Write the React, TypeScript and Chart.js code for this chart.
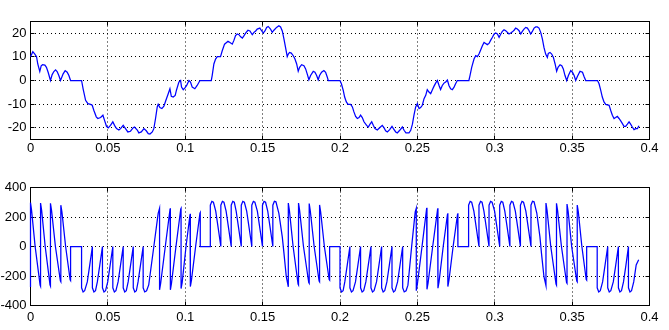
import React, { useEffect, useRef } from "react";
import { Chart, registerables } from "chart.js";

Chart.register(...registerables);

// ---- axis ticks / ranges ----
const timeTicks = [0, 0.05, 0.1, 0.15, 0.2, 0.25, 0.3, 0.35, 0.4];
const timeTickLabels = ["0", "0.05", "0.1", "0.15", "0.2", "0.25", "0.3", "0.35", "0.4"];
const timeRange = [0, 0.4];
const currentTicks = [-20, -10, 0, 10, 20];
const currentRange = [-25, 25];
const voltageTicks = [-400, -200, 0, 200, 400];
const voltageRange = [-400, 400];

// ---- top trace: [time, value] ----
const currentPoints: [number, number][] = [
  [0, 10.1], [0.0015, 12.2], [0.0028, 11.2], [0.0039, 10.1], [0.0047, 7.0], [0.006, 3.8], [0.0069, 6.2], [0.0078, 6.7],
  [0.0093, 6.5], [0.0103, 5.6], [0.0114, 3.5], [0.0129, 0], [0.014, 2.5], [0.0151, 3.8], [0.0162, 4.5], [0.0172, 3.8],
  [0.0183, 2.1], [0.0194, 0], [0.0211, 2.8], [0.0224, 4.2], [0.0237, 3.5], [0.0248, 2.1], [0.0259, 0], [0.033, 0],
  [0.034, -3.5], [0.0356, -8.4], [0.0371, -9.8], [0.0388, -10.1], [0.0399, -10.5], [0.0409, -12.6], [0.0425, -15.4],
  [0.0435, -16.1], [0.0453, -15.7], [0.0468, -14.7], [0.0478, -16.8], [0.0491, -19.4], [0.0502, -20.1], [0.0517, -19.0],
  [0.0532, -17.5], [0.0543, -19.0], [0.0556, -20.4], [0.0571, -21.0], [0.0582, -20.4], [0.0599, -19.0], [0.0614, -20.4],
  [0.0629, -21.8], [0.0646, -21.5], [0.0664, -20.0], [0.0672, -19.7], [0.069, -21.0], [0.07, -22.2], [0.0716, -21.8],
  [0.0733, -20.4], [0.0748, -21.3], [0.0761, -22.5], [0.0772, -22.7], [0.0787, -21.8], [0.0797, -20.4], [0.0808, -16.1],
  [0.0819, -11.2], [0.0825, -10.1], [0.0836, -11.5], [0.0849, -11.9], [0.0862, -10.9], [0.0875, -8.4], [0.089, -5.6],
  [0.0901, -3.5], [0.091, -6.7], [0.0922, -7.0], [0.0935, -6.3], [0.0944, -3.9], [0.0959, -0.7], [0.097, 0],
  [0.0976, -2.8], [0.0987, -3.9], [0.0998, -3.1], [0.1009, -2.1], [0.1024, 0], [0.1034, -0.7], [0.1045, -2.8],
  [0.1062, -3.5], [0.1077, -2.1], [0.1095, 0], [0.1168, 0], [0.1174, 2.1], [0.1185, 7.0], [0.1196, 9.1], [0.1207, 10.1],
  [0.1228, 10.1], [0.1239, 12.6], [0.1254, 15.4], [0.1267, 16.1], [0.1276, 16.6], [0.1289, 16.1], [0.1304, 15.4],
  [0.1315, 17.1], [0.1325, 19.0], [0.1336, 19.7], [0.1347, 19.4], [0.1358, 18.5], [0.1369, 18.0], [0.138, 19.0],
  [0.139, 20.1], [0.1405, 21.3], [0.1418, 21.0], [0.1433, 19.4], [0.1444, 20.4], [0.1455, 21.0], [0.1465, 21.8],
  [0.1482, 22.2], [0.1491, 21.3], [0.1504, 20.1], [0.1515, 21.0], [0.1526, 22.5], [0.1536, 22.9], [0.1551, 21.8],
  [0.1562, 20.4], [0.1573, 21.3], [0.159, 22.5], [0.1605, 23.2], [0.1616, 22.7], [0.1627, 21.0], [0.1638, 17.5],
  [0.1648, 14.0], [0.1659, 10.1], [0.1666, 11.2], [0.1674, 11.9], [0.1685, 11.6], [0.1698, 10.5], [0.1709, 9.1],
  [0.172, 7.0], [0.173, 3.9], [0.1739, 5.6], [0.1752, 6.7], [0.1767, 6.3], [0.1778, 4.9], [0.1788, 2.8], [0.1799, 0.3],
  [0.181, 2.1], [0.1827, 3.9], [0.1838, 3.5], [0.1849, 2.1], [0.1859, 0.3], [0.1868, 2.1], [0.1881, 3.5], [0.1896, 4.2],
  [0.1907, 3.5], [0.1918, 1.4], [0.1924, 0], [0.2, 0], [0.2009, -1.4], [0.2021, -4.2], [0.203, -7.0], [0.2041, -9.1],
  [0.2052, -10.1], [0.2069, -10.1], [0.208, -11.2], [0.209, -13.3], [0.2101, -15.2], [0.2112, -16.1], [0.2123, -15.7],
  [0.2133, -14.7], [0.2144, -15.7], [0.2155, -17.5], [0.2172, -19.0], [0.2183, -19.7], [0.2194, -18.5], [0.2205, -17.5],
  [0.2215, -19.0], [0.2226, -20.4], [0.2241, -21.0], [0.2258, -19.9], [0.2273, -19.0], [0.2284, -20.0], [0.2295, -21.3],
  [0.2306, -21.8], [0.2321, -20.8], [0.2336, -19.4], [0.2345, -20.4], [0.236, -21.8], [0.237, -22.2], [0.2386, -21.1],
  [0.2403, -19.7], [0.2414, -21.1], [0.2426, -22.2], [0.2446, -22.2], [0.2457, -21.1], [0.2468, -18.5], [0.2478, -14.7],
  [0.2489, -11.2], [0.25, -9.8], [0.2511, -11.9], [0.2521, -11.5], [0.2532, -10.5], [0.2543, -7.7], [0.2554, -6.3],
  [0.2564, -3.9], [0.2575, -4.9], [0.2586, -5.6], [0.2597, -3.9], [0.2607, -2.5], [0.2618, -1.1], [0.2629, 0],
  [0.264, -2.1], [0.265, -3.8], [0.2661, -2.1], [0.2672, -1.1], [0.2683, -0.6], [0.2694, 0.2], [0.2704, -2.1],
  [0.2715, -3.5], [0.2726, -3.9], [0.2737, -2.8], [0.2747, -1.4], [0.2758, 0], [0.2833, 0], [0.284, 2.1], [0.2851, 5.6],
  [0.2866, 9.1], [0.2877, 10.5], [0.2888, 10.1], [0.2898, 11.2], [0.2909, 12.9], [0.292, 14.7], [0.2931, 16.1],
  [0.2941, 15.7], [0.2952, 15.2], [0.2963, 15.7], [0.2974, 17.1], [0.2985, 18.3], [0.2996, 19.7], [0.3006, 20.1],
  [0.3017, 19.7], [0.3028, 18.3], [0.3039, 19.7], [0.3049, 20.8], [0.306, 21.5], [0.3071, 21.1], [0.3082, 20.4],
  [0.3092, 19.7], [0.3103, 20.1], [0.3114, 20.6], [0.3125, 21.3], [0.3135, 22.2], [0.3146, 21.8], [0.3157, 21.1],
  [0.3168, 19.7], [0.3178, 20.8], [0.3189, 21.8], [0.32, 22.5], [0.3211, 22.2], [0.3222, 21.1], [0.3232, 19.7],
  [0.3243, 20.8], [0.3254, 22.2], [0.3265, 22.7], [0.3275, 22.7], [0.3286, 22.2], [0.3297, 20.4], [0.3308, 17.5],
  [0.3318, 14.0], [0.3329, 11.2], [0.334, 9.8], [0.3346, 11.5], [0.3357, 11.9], [0.3368, 11.2], [0.3379, 9.8],
  [0.339, 7.0], [0.34, 3.9], [0.3409, 5.6], [0.3422, 6.7], [0.3433, 6.3], [0.3443, 4.9], [0.3454, 2.1], [0.3465, 0],
  [0.3476, 2.1], [0.3491, 4.2], [0.3502, 3.5], [0.3513, 2.1], [0.3523, 0], [0.3534, 1.7], [0.3551, 3.9], [0.3567, 3.5],
  [0.3577, 1.7], [0.3588, 0], [0.3664, 0], [0.3674, -1.4], [0.3685, -4.2], [0.3695, -7.0], [0.3706, -9.1],
  [0.3717, -10.1], [0.3739, -10.5], [0.3749, -12.6], [0.376, -14.7], [0.3771, -16.1], [0.3781, -15.7], [0.3792, -15.2],
  [0.3803, -16.1], [0.3814, -17.1], [0.3825, -18.3], [0.3835, -19.4], [0.3846, -19.4], [0.3857, -18.5], [0.3868, -17.5],
  [0.3878, -18.5], [0.3889, -19.7], [0.39, -20.8], [0.3911, -20.4], [0.3922, -20.4], [0.3932, -19.2],
];

// ---- bottom trace: [time, value] ----
const voltagePoints: [number, number][] = [
  [0, -275], [0, 297], [0.0007, 245], [0.003, 0], [0.0062, -262], [0.0065, -270],
  [0.0065, 295], [0.0072, 245], [0.0095, 0], [0.0126, -260], [0.0129, -268],
  [0.0129, 293], [0.0136, 245], [0.0161, 0], [0.0193, -232], [0.0196, -238],
  [0.0196, 280], [0.0203, 235], [0.0227, 0], [0.0256, -226], [0.0259, -231],
  [0.0259, 0],
  [0.033, 0], [0.033, -280], [0.034, -308], [0.035, -300], [0.0367, -240], [0.0383, -125], [0.04, 0],
  [0.04, -280], [0.041, -308], [0.042, -300], [0.0432, -240], [0.0448, -125], [0.0465, 0],
  [0.0465, -280], [0.0475, -308], [0.0485, -300], [0.0499, -240], [0.0515, -125], [0.0532, 0],
  [0.0532, -280], [0.0542, -308], [0.0552, -300], [0.0566, -240], [0.0582, -125], [0.0599, 0],
  [0.0599, -280], [0.0609, -308], [0.0619, -300], [0.0631, -240], [0.0647, -125], [0.0664, 0],
  [0.0664, -280], [0.0674, -308], [0.0684, -300], [0.0695, -240], [0.0711, -125], [0.0728, 0],
  [0.0728, -280], [0.0738, -308], [0.075, -300], [0.0764, -260], [0.0797, 0], [0.0825, 225], [0.0834, 259],
  [0.0834, -294], [0.0841, -250], [0.0871, 0], [0.0902, 255], [0.0904, 259],
  [0.0904, -294], [0.0911, -250], [0.094, 0], [0.0971, 255], [0.0973, 259],
  [0.0973, -285], [0.098, -245], [0.1005, 0], [0.1031, 218], [0.1033, 222],
  [0.1033, -272], [0.104, -230], [0.1067, 0], [0.1095, 226], [0.1097, 230],
  [0.1097, 0],
  [0.1162, 0], [0.1162, 280], [0.1172, 306], [0.1182, 300], [0.1197, 240], [0.1213, 125], [0.123, 0],
  [0.123, 280], [0.124, 306], [0.125, 300], [0.1264, 240], [0.128, 125], [0.1297, 0],
  [0.1297, 280], [0.1307, 306], [0.1317, 300], [0.1329, 240], [0.1345, 125], [0.1362, 0],
  [0.1362, 280], [0.1372, 306], [0.1382, 300], [0.1397, 240], [0.1413, 125], [0.143, 0],
  [0.143, 280], [0.144, 306], [0.145, 300], [0.1466, 240], [0.1482, 125], [0.1499, 0],
  [0.1499, 280], [0.1509, 306], [0.1519, 300], [0.1533, 240], [0.1549, 125], [0.1566, 0],
  [0.1566, 280], [0.1576, 306], [0.1586, 303], [0.1605, 225], [0.1627, 65], [0.1638, -47], [0.1653, -205], [0.1666, -273],
  [0.1666, 295], [0.1673, 245], [0.1697, 0], [0.1729, -255], [0.1732, -261],
  [0.1732, 295], [0.1739, 245], [0.1764, 0], [0.1798, -245], [0.1801, -250],
  [0.1801, 291], [0.1808, 242], [0.1833, 0], [0.1865, -234], [0.1868, -239],
  [0.1868, 282], [0.1875, 235], [0.1899, 0], [0.193, -224], [0.1933, -228],
  [0.1933, 0],
  [0.2, 0], [0.2, -280], [0.201, -308], [0.202, -300], [0.2031, -240], [0.2047, -125], [0.2064, 0],
  [0.2064, -280], [0.2074, -308], [0.2084, -300], [0.21, -240], [0.2116, -125], [0.2133, 0],
  [0.2133, -280], [0.2143, -308], [0.2153, -300], [0.2167, -240], [0.2183, -125], [0.22, 0],
  [0.22, -280], [0.221, -308], [0.222, -300], [0.2236, -240], [0.2252, -125], [0.2269, 0],
  [0.2269, -280], [0.2279, -308], [0.2289, -300], [0.2303, -240], [0.2319, -125], [0.2336, 0],
  [0.2336, -280], [0.2346, -308], [0.2356, -300], [0.2372, -240], [0.2388, -125], [0.2405, 0],
  [0.2405, -280], [0.2415, -308], [0.2427, -300], [0.2439, -262], [0.2463, 0], [0.2486, 235], [0.2493, 259],
  [0.2493, -300], [0.25, -255], [0.253, 0], [0.256, 258], [0.2562, 262],
  [0.2562, -290], [0.2569, -248], [0.2599, 0], [0.2631, 255], [0.2633, 259],
  [0.2633, -283], [0.264, -240], [0.2667, 0], [0.2695, 222], [0.2697, 225],
  [0.2697, -272], [0.2704, -230], [0.2731, 0], [0.276, 222], [0.2762, 225],
  [0.2762, 0],
  [0.2831, 0], [0.2831, 280], [0.2841, 306], [0.2851, 300], [0.2865, 240], [0.2881, 125], [0.2898, 0],
  [0.2898, 280], [0.2908, 306], [0.2918, 300], [0.293, 240], [0.2946, 125], [0.2963, 0],
  [0.2963, 280], [0.2973, 306], [0.2983, 300], [0.2999, 240], [0.3015, 125], [0.3032, 0],
  [0.3032, 280], [0.3042, 306], [0.3052, 300], [0.3065, 240], [0.3081, 125], [0.3098, 0],
  [0.3098, 280], [0.3108, 306], [0.3118, 300], [0.3133, 240], [0.3149, 125], [0.3166, 0],
  [0.3166, 280], [0.3176, 306], [0.3186, 300], [0.3201, 240], [0.3217, 125], [0.3234, 0],
  [0.3234, 280], [0.3244, 306], [0.3254, 303], [0.3272, 225], [0.3292, 65], [0.3302, -47], [0.3318, -205], [0.3331, -265],
  [0.3331, 295], [0.3338, 245], [0.3362, 0], [0.3396, -255], [0.3399, -262],
  [0.3399, 293], [0.3406, 245], [0.3431, 0], [0.3464, -245], [0.3467, -250],
  [0.3467, 288], [0.3474, 240], [0.3497, 0], [0.353, -234], [0.3533, -239],
  [0.3533, 281], [0.354, 235], [0.3563, 0], [0.3591, -224], [0.3594, -228],
  [0.3594, 0],
  [0.3662, 0], [0.3662, -280], [0.3672, -308], [0.3682, -300], [0.3697, -240], [0.3713, -125], [0.373, 0],
  [0.373, -280], [0.374, -308], [0.375, -300], [0.3766, -240], [0.3782, -125], [0.3799, 0],
  [0.3799, -280], [0.3809, -308], [0.3819, -300], [0.3832, -240], [0.3848, -125], [0.3864, 0],
  [0.3864, -280], [0.3874, -308], [0.3884, -300], [0.3898, -240], [0.3914, -125], [0.393, -90],
];

const FONT_FAMILY = "'Liberation Sans Narrow', 'Liberation Sans', Arial, sans-serif";

// Box and inward tick marks (MATLAB style axes), drawn beneath the trace
const framePlugin = {
  id: "matlabFrame",
  beforeDatasetsDraw(chart: any) {
    const { ctx, chartArea: a, scales } = chart;
    const al = (p: number) => Math.floor(p) + 0.5;
    const L = al(a.left), R = al(a.right), T = al(a.top), B = al(a.bottom);
    ctx.save();
    ctx.strokeStyle = "#000";
    ctx.lineWidth = 1;
    ctx.setLineDash([]);
    ctx.beginPath();
    const len = 4;
    scales.x.ticks.forEach((t: any) => {
      const px = al(scales.x.getPixelForValue(t.value));
      if (px <= L + 1 || px >= R - 1) return;
      ctx.moveTo(px, B); ctx.lineTo(px, B - len);
      ctx.moveTo(px, T); ctx.lineTo(px, T + len);
    });
    scales.y.ticks.forEach((t: any) => {
      const py = al(scales.y.getPixelForValue(t.value));
      if (py <= T + 1 || py >= B - 1) return;
      ctx.moveTo(L, py); ctx.lineTo(L + len, py);
      ctx.moveTo(R, py); ctx.lineTo(R - len, py);
    });
    ctx.stroke();
    ctx.strokeRect(L, T, R - L, B - T);
    ctx.restore();
  },
};

function makeConfig(points: [number, number][], yRange: number[], yTicks: number[], padTop: number, padBottom: number, xLabelPad: number) {
  return {
    type: "line" as const,
    data: {
      datasets: [
        {
          data: points.map(([x, y]) => ({ x, y })),
          borderColor: "#0000ff",
          borderWidth: 1.25,
          pointRadius: 0,
          tension: 0,
          fill: false,
          clip: false as any,
        },
      ],
    },
    options: {
      animation: false as const,
      responsive: false,
      devicePixelRatio: 1,
      layout: { padding: { left: 0, right: 19.5, top: padTop, bottom: padBottom } },
      plugins: { legend: { display: false }, tooltip: { enabled: false } },
      events: [],
      scales: {
        x: {
          type: "linear" as const,
          min: timeRange[0],
          max: timeRange[1],
          afterBuildTicks: (axis: any) => {
            axis.ticks = timeTicks.map((v) => ({ value: v }));
          },
          afterFit: (axis: any) => {
            axis.height = 20;
          },
          ticks: {
            autoSkip: false,
            maxRotation: 0,
            minRotation: 0,
            padding: xLabelPad,
            color: "#000",
            font: { family: FONT_FAMILY, size: 13 },
            callback: (v: any) => {
              const i = timeTicks.findIndex((t) => Math.abs(t - Number(v)) < 1e-9);
              return i >= 0 ? timeTickLabels[i] : "";
            },
          },
          grid: { color: "#000", lineWidth: 1, drawTicks: false },
          border: { display: false, dash: [1, 3] },
        },
        y: {
          type: "linear" as const,
          min: yRange[0],
          max: yRange[1],
          afterBuildTicks: (axis: any) => {
            axis.ticks = yTicks.map((v) => ({ value: v }));
          },
          afterFit: (axis: any) => {
            axis.width = 30.5;
          },
          ticks: {
            autoSkip: false,
            padding: 4,
            color: "#000",
            font: { family: FONT_FAMILY, size: 13 },
            callback: (v: any) => String(v),
          },
          grid: { color: "#000", lineWidth: 1, drawTicks: false },
          border: { display: false, dash: [1, 3] },
        },
      },
    },
    plugins: [framePlugin],
  };
}

function Panel(props: { points: [number, number][]; yRange: number[]; yTicks: number[]; padTop: number; padBottom: number; xLabelPad: number; top: number }) {
  const ref = useRef<HTMLCanvasElement | null>(null);
  useEffect(() => {
    if (!ref.current) return;
    const chart = new Chart(ref.current, makeConfig(props.points, props.yRange, props.yTicks, props.padTop, props.padBottom, props.xLabelPad) as any);
    return () => chart.destroy();
  }, []);
  return (
    <canvas
      ref={ref}
      width={669}
      height={165}
      style={{ position: "absolute", left: 0, top: props.top, width: 669, height: 165, display: "block" }}
    />
  );
}

export default function App() {
  return (
    <div style={{ position: "absolute", left: 0, top: 0, width: 669, height: 330, background: "#fff", overflow: "hidden" }}>
      <Panel points={currentPoints} yRange={currentRange} yTicks={currentTicks} padTop={21.5} padBottom={5.5} xLabelPad={1} top={0} />
      <Panel points={voltagePoints} yRange={voltageRange} yTicks={voltageTicks} padTop={22.5} padBottom={4.5} xLabelPad={4} top={165} />
    </div>
  );
}
